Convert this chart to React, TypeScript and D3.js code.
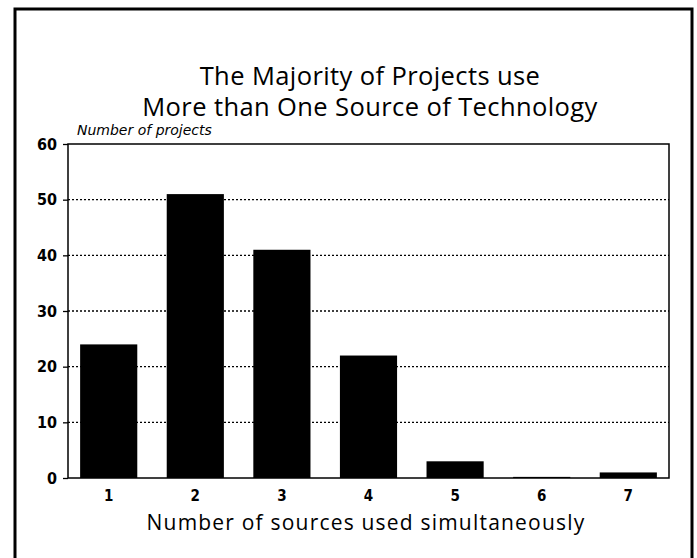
import { useEffect, useRef } from "react";
import * as d3 from "d3";

const categories = ["1", "2", "3", "4", "5", "6", "7"];
const projects = [24, 51, 41, 22, 3, 0.2, 1];
const yTicks = [0, 10, 20, 30, 40, 50, 60];
const gridTicks = [10, 20, 30, 40, 50];

const drawChart = (svgEl: SVGSVGElement) => {
  const width = 697;
  const height = 558;
  const marginLeft = 68;
  const marginRight = 28;
  const marginTop = 144;
  const marginBottom = 80;

  const svg = d3.select(svgEl);
  svg.selectAll("*").remove();
  svg.attr("width", width).attr("height", height).attr("viewBox", [0, 0, width, height]);

  svg.append("rect").attr("width", width).attr("height", height).attr("fill", "#fff");

  // outer frame, runs off the bottom of the page
  svg.append("path")
    .attr("d", `M15,${height + 5} L15,9 L692,9 L692,${height + 5}`)
    .attr("fill", "none")
    .attr("stroke", "#000")
    .attr("stroke-width", 3);

  const x = d3.scaleBand()
    .domain(categories)
    .range([marginLeft, width - marginRight])
    .paddingInner(0.34)
    .paddingOuter(0.14);

  const y = d3.scaleLinear()
    .domain([0, 60])
    .range([height - marginBottom, marginTop]);

  // title
  svg.append("text")
    .attr("text-anchor", "middle")
    .attr("font-family", "'Open Sans', sans-serif")
    .attr("font-size", 25.5)
    .attr("letter-spacing", 0.4)
    .attr("fill", "#000")
    .selectAll("tspan")
    .data(["The Majority of Projects use", "More than One Source of Technology"])
    .join("tspan")
    .attr("x", 370)
    .attr("y", (d, i) => 85 + i * 31)
    .text((d) => d);

  // dotted gridlines
  svg.append("g")
    .selectAll("line")
    .data(gridTicks)
    .join("line")
    .attr("x1", marginLeft)
    .attr("x2", width - marginRight)
    .attr("y1", (d) => y(d))
    .attr("y2", (d) => y(d))
    .attr("stroke", "#000")
    .attr("stroke-width", 1.3)
    .attr("stroke-dasharray", "2,2");

  // bars
  svg.append("g")
    .selectAll("rect")
    .data(projects)
    .join("rect")
    .attr("x", (d, i) => x(categories[i])!)
    .attr("y", (d) => y(d))
    .attr("width", x.bandwidth())
    .attr("height", (d) => y(0) - y(d))
    .attr("fill", "#000");

  // plot frame
  svg.append("rect")
    .attr("x", marginLeft)
    .attr("y", marginTop)
    .attr("width", width - marginLeft - marginRight)
    .attr("height", y(0) - marginTop)
    .attr("fill", "none")
    .attr("stroke", "#000")
    .attr("stroke-width", 1.5);

  // y axis
  svg.append("g")
    .attr("transform", `translate(${marginLeft},0)`)
    .call(d3.axisLeft(y).tickValues(yTicks).tickSize(5).tickPadding(6))
    .call((g) => g.select(".domain").remove())
    .call((g) => g.selectAll("line").attr("stroke-width", 1.3))
    .call((g) => g.selectAll("text")
      .attr("font-family", "'DejaVu Sans Condensed', 'DejaVu Sans', sans-serif")
      .attr("font-weight", "bold")
      .attr("font-size", 16)
      .attr("fill", "#000"));

  svg.append("text")
    .attr("x", 77)
    .attr("y", 135)
    .attr("font-family", "'DejaVu Sans', sans-serif")
    .attr("font-style", "italic")
    .attr("font-size", 14)
    .attr("fill", "#000")
    .text("Number of projects");

  // x axis
  svg.append("g")
    .attr("transform", `translate(0,${y(0)})`)
    .call(d3.axisBottom(x).tickSize(0).tickPadding(12))
    .call((g) => g.select(".domain").remove())
    .call((g) => g.selectAll("text")
      .attr("font-family", "'DejaVu Sans Condensed', 'DejaVu Sans', sans-serif")
      .attr("font-weight", "bold")
      .attr("font-size", 15)
      .attr("fill", "#000"));

  svg.append("text")
    .attr("x", 366)
    .attr("y", 530)
    .attr("text-anchor", "middle")
    .attr("font-family", "'Open Sans', sans-serif")
    .attr("font-size", 21)
    .attr("letter-spacing", 1.2)
    .attr("fill", "#000")
    .text("Number of sources used simultaneously");
};

export default function App() {
  const svgRef = useRef<SVGSVGElement>(null);
  useEffect(() => {
    if (svgRef.current) drawChart(svgRef.current);
  }, []);
  return <svg ref={svgRef} style={{ position: "absolute", left: 0, top: 0 }} />;
}
